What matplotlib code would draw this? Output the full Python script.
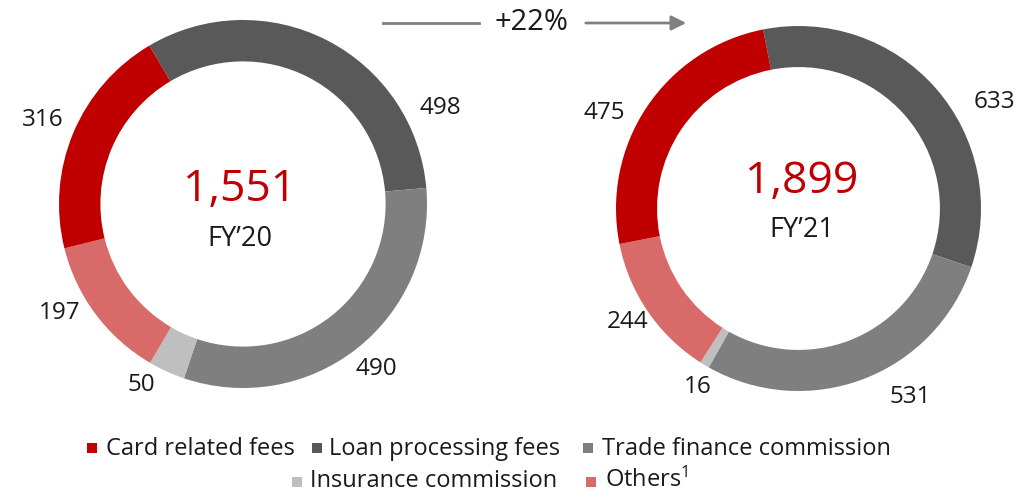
import matplotlib
matplotlib.use('Agg')
import matplotlib.pyplot as plt
from matplotlib.patches import Rectangle, FancyArrowPatch

plt.rcParams['font.family'] = ['Open Sans', 'DejaVu Sans']
plt.rcParams['mathtext.fontset'] = 'custom'
plt.rcParams['mathtext.rm'] = 'Open Sans'
plt.rcParams['mathtext.default'] = 'regular'

# data
categories = ['Card related fees', 'Loan processing fees', 'Trade finance commission',
              'Insurance commission', 'Others$^{1}$']
fy20 = [316, 498, 490, 50, 197]
fy21 = [475, 633, 531, 16, 244]
years = ["FY’20", "FY’21"]
growth_label = '+22%'

colors = ['#C00000', '#595959', '#7F7F7F', '#BFBFBF', '#D96A6A']
text_col = '#1a1a1a'

W, H = 1020, 493
fig = plt.figure(figsize=(W / 100, H / 100), dpi=100)


def px(x):
    return x / W


def py(y):
    return 1 - y / H


def donut(cx, cy, r, values, year, start, label_pos, title_pos):
    # square axes around the ring; clockwise order: loan, trade, insurance, others, card
    ax = fig.add_axes([px(cx - r), py(cy + r), 2 * r / W, 2 * r / H])
    order = [1, 2, 3, 4, 0]
    vals = [values[i] for i in order]
    cols = [colors[i] for i in order]
    ax.pie(vals, colors=cols, startangle=start, counterclock=False, radius=1,
           wedgeprops=dict(width=0.225, linewidth=0))
    ax.set_xlim(-1, 1)
    ax.set_ylim(-1, 1)
    ax.set_aspect('auto')
    ax.axis('off')
    for v, (lx, ly) in zip(values, label_pos):
        ax.text(lx, ly, str(v), ha='center', va='center', fontsize=17.5, color=text_col,
                clip_on=False)
    total = sum(values)
    ax.text(title_pos[0], title_pos[1], f'{total:,}', ha='center', va='center',
            fontsize=32, color='#C00000')
    ax.text(title_pos[0], title_pos[2], year, ha='center', va='center', fontsize=19.5,
            color=text_col)
    return ax


# label positions in units of the outer radius, same order as categories
left_labels = [(-1.087, 0.457), (1.071, 0.522), (0.723, -0.897), (-0.554, -0.984), (-0.995, -0.592)]
right_labels = [(-1.066, 0.523), (1.071, 0.584), (0.611, -1.033), (-0.551, -0.978), (-0.934, -0.622)]

donut(243, 204, 184, fy20, years[0], 120.6, left_labels, (-0.016, 0.076, -0.19))
donut(798.5, 208.5, 182.5, fy21, years[1], 101.2, right_labels, (0.019, 0.145, -0.12))

# growth arrow
arrow_col = '#808080'
fig.add_artist(plt.Line2D([px(383), px(479)], [py(23), py(23)], color=arrow_col, lw=2))
fig.add_artist(FancyArrowPatch((px(583), py(23)), (px(689), py(23)),
                               transform=fig.transFigure, arrowstyle='-|>',
                               mutation_scale=22, color=arrow_col, lw=2))
fig.text(px(532), py(22), growth_label, ha='center', va='center', fontsize=21, color=text_col)

# legend (square top-left corner, text left edge, baseline)
legend_sq = [(87, 443), (312, 443), (583, 443), (292, 477), (586, 477)]
legend_tx = [106, 329, 602, 310, 605]
legend_base = [455, 455, 455, 487, 487]
for i, name in enumerate(categories):
    sx, sy = legend_sq[i]
    fig.add_artist(Rectangle((px(sx), py(sy + 10)), 10 / W, 10 / H, transform=fig.transFigure,
                             color=colors[i], lw=0))
    fig.text(px(legend_tx[i]), py(legend_base[i]), name, ha='left', va='baseline',
             fontsize=17, color=text_col)

fig.savefig('out.png', dpi=100)
